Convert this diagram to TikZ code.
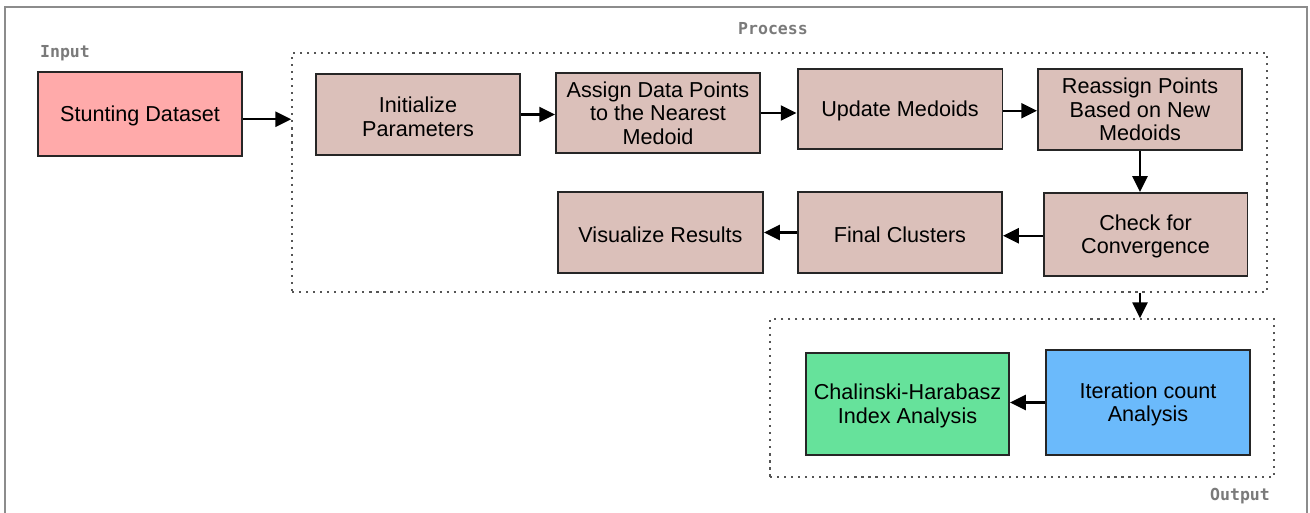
\documentclass[tikz,border=0pt]{standalone}
\usepackage{fontspec}
\setmainfont{Liberation Sans}
\newfontfamily\labelmono{DejaVu Sans Mono}
\usetikzlibrary{arrows.meta}
\definecolor{inputred}{HTML}{FFAAAA}
\definecolor{stepfill}{HTML}{DBC0BA}
\definecolor{metricgreen}{HTML}{66E29B}
\definecolor{countblue}{HTML}{6BBAFB}
\definecolor{framegrey}{HTML}{8C8C8C}
\definecolor{dotgrey}{HTML}{555555}
\definecolor{labelgrey}{HTML}{7A7A7A}
% lower a line of box text a little without changing its spacing
\newcommand\lowline[1]{\raisebox{-1.2pt}[\height][\depth]{#1}}
\tikzset{
  flowbox/.style={draw=black!85, line width=1.1pt, align=center,
    minimum width=4.08cm, minimum height=1.62cm, inner sep=2pt,
    font=\fontsize{12.3}{13.4}\selectfont},
  stepbox/.style={flowbox, fill=stepfill},
  groupbox/.style={draw=dotgrey, line width=0.9pt,
    dash pattern=on 1.2pt off 2.8pt},
  grouplabel/.style={text=labelgrey, font=\labelmono\bfseries\fontsize{9.4}{11}\selectfont},
  flowarrow/.style={line width=1.4pt, -{Triangle[length=9pt,width=8.5pt]}},
  outerframe/.style={draw=framegrey, line width=1.4pt}
}
\begin{document}
\begin{tikzpicture}[x=0.02cm,y=-0.02cm]
\useasboundingbox (0,0) rectangle (1310,513);
% page frame
\draw[outerframe] (5,530) -- (5,7) -- (1307,7) -- (1307,530);

% group frames
\node[groupbox, minimum width=19.5cm, minimum height=4.78cm] (proc) at (779.5,172.5) {};
\node[groupbox, minimum width=10.08cm, minimum height=3.16cm] (out) at (1022,398) {};

% group labels
\node[grouplabel] (lin) at (65,53) {Input};
\node[grouplabel] (lproc) at (773,29) {Process};
\node[grouplabel] (lout) at (1240,496) {Output};

% input
\node[flowbox, fill=inputred, minimum height=1.68cm] (data) at (140,114) {\lowline{Stunting Dataset}};

% clustering steps
\node[stepbox] (init) at (418,114.5) {\lowline{Initialize}\\\lowline{Parameters}};
\node[stepbox, minimum height=1.6cm] (assign) at (658,113) {Assign Data Points\\to the Nearest\\Medoid};
\node[stepbox, minimum height=1.6cm, minimum width=4.1cm] (update) at (900,109) {\lowline{Update Medoids}};
\node[stepbox] (reas) at (1140,109.5) {Reassign Points\\Based on New\\Medoids};
\node[stepbox, minimum height=1.66cm] (check) at (1145.5,234.5) {\lowline{Check for}\\\lowline{Convergence}};
\node[stepbox] (final) at (900,232.5) {\lowline{Final Clusters}};
\node[stepbox, minimum width=4.1cm] (vis) at (660.5,232.5) {\lowline{Visualize Results}};

% outputs
\node[flowbox, fill=metricgreen, minimum height=2.04cm, minimum width=4.06cm] (ch) at (907.5,404) {\lowline{Chalinski-Harabasz}\\\lowline{Index Analysis}};
\node[flowbox, fill=countblue, minimum height=2.1cm] (iter) at (1148,402.5) {\lowline{Iteration count}\\\lowline{Analysis}};

% connectors
\draw[flowarrow] ([yshift=-3pt]data.east) -- ([yshift=-3pt]data.east -| proc.west);
\draw[flowarrow] (init.east) -- (init.east -| assign.west);
\draw[flowarrow] (assign.east) -- (assign.east -| update.west);
\draw[flowarrow] ([yshift=-1pt]update.east) -- ([yshift=-1pt]update.east -| reas.west);
\draw[flowarrow] (reas.south) -- (reas.south |- check.north);
\draw[flowarrow] ([yshift=-0.7pt]check.west) -- ([yshift=-0.7pt]check.west -| final.east);
\draw[flowarrow] (final.west) -- (final.west -| vis.east);
\draw[flowarrow] (reas.south |- proc.south) -- (reas.south |- out.north);
\draw[flowarrow] (iter.west) -- (iter.west -| ch.east);
\end{tikzpicture}
\end{document}
